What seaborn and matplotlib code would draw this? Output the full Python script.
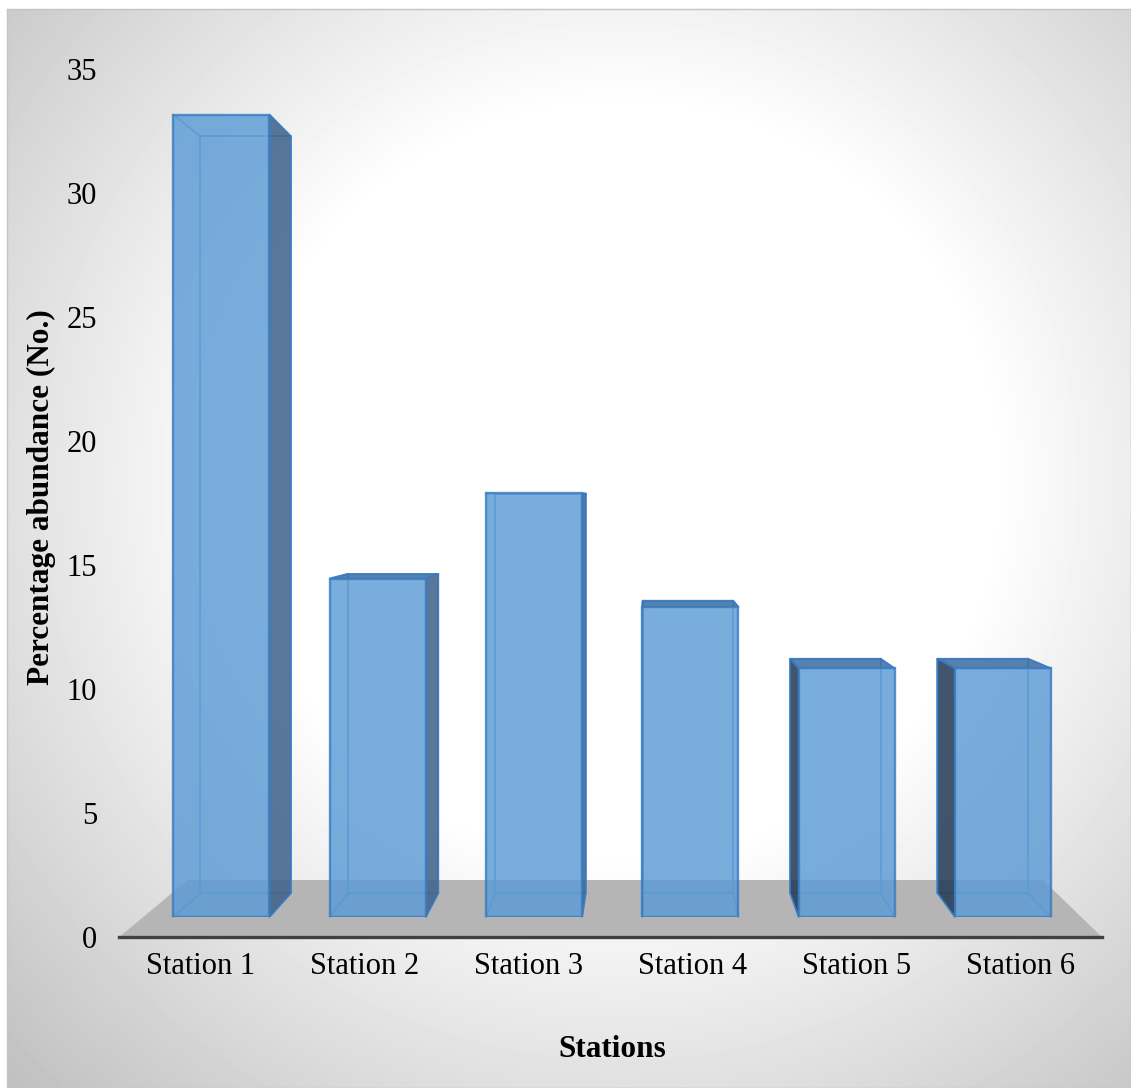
import numpy as np
import pandas as pd
import matplotlib.pyplot as plt
import seaborn as sns
from matplotlib.patches import Polygon
from matplotlib.lines import Line2D
from matplotlib.transforms import IdentityTransform

# 데이터
stations = ['Station 1', 'Station 2', 'Station 3', 'Station 4', 'Station 5', 'Station 6']
abundance = [33.9, 14.3, 17.9, 13.1, 10.5, 10.5]
y_ticks = [0, 5, 10, 15, 20, 25, 30, 35]

df = pd.DataFrame({'Station': stations, 'Abundance': abundance})

sns.set_theme(style='white')
plt.rcParams['font.family'] = ['Liberation Serif', 'DejaVu Serif']
plt.rcParams['text.color'] = 'black'

W, H = 1131, 1088
DPI = 100
fig = plt.figure(figsize=(W / DPI, H / DPI), dpi=DPI, facecolor='white')

# 원근 설정 (픽셀, 왼쪽 위 기준)
vx, vy = 647, 497
k_back, k_floor_front, k_floor_back = 0.943, 1.048, 0.912
vp = np.array([vx, H - vy])


def px_axes(left, top, right, bottom):
    return fig.add_axes([left / W, 1 - bottom / H, (right - left) / W, (bottom - top) / H])


# 배경 (radial gradient)
bg = px_axes(7, 9, W, H)
yy, xx = np.mgrid[9:H, 7:W]
d = np.hypot(xx - 620, yy - 480)
shade = np.clip(255 - 0.131 * (d - 374), 0, 255) / 255
bg.imshow(shade, cmap='gray', vmin=0, vmax=1, aspect='auto', extent=(0, 1, 0, 1))
bg.set_xticks([])
bg.set_yticks([])
for s in bg.spines.values():
    s.set_color('#c4c4c4')
    s.set_linewidth(1)

# 막대 앞면 평면
bar_l, bar_r, bar_bottom = 143.3, 1081.2, 917
px_per_unit = 23.67
bar_top = bar_bottom - 35 * px_per_unit

# 바닥 앞면 평면 (축 눈금)
ff_l = vx + (bar_l - vx) * k_floor_front
ff_r = vx + (bar_r - vx) * k_floor_front
ff_t = vy + (bar_top - vy) * k_floor_front
ff_b = vy + (bar_bottom - vy) * k_floor_front
ax_front = px_axes(ff_l, ff_t, ff_r, ff_b)
ax_front.set_facecolor('none')
ax_front.set_xlim(-0.5, 5.5)
ax_front.set_ylim(0, 35)
ax_front.set_xticks(range(len(stations)))
ax_front.set_xticklabels(stations)
ax_front.set_yticks(y_ticks)
ax_front.tick_params(axis='both', length=0, labelsize=22, labelcolor='black')
ax_front.tick_params(axis='y', pad=16)
ax_front.tick_params(axis='x', pad=11)
for name, s in ax_front.spines.items():
    s.set_visible(name == 'bottom')
ax_front.spines['bottom'].set_color('#404040')
ax_front.spines['bottom'].set_linewidth(2.4)
ax_front.spines['bottom'].set_zorder(3)

ax = px_axes(bar_l, bar_top, bar_r, bar_bottom)
sns.barplot(data=df, x='Station', y='Abundance', ax=ax, color='#5B9BD5', saturation=1,
            width=0.614, edgecolor='#3A7CC2', linewidth=1.7, alpha=0.82, zorder=3)
ax.set_xlim(-0.5, 5.5)
ax.set_ylim(0, 35)
ax.axis('off')


def project(pts, k):
    disp = ax.transData.transform(pts)
    return vp + (disp - vp) * k


# 바닥
floor_front = project([(-0.5, 0), (5.5, 0)], k_floor_front)
floor_back = project([(-0.5, 0), (5.5, 0)], k_floor_back)
floor = Polygon([floor_front[0], floor_front[1], floor_back[1], floor_back[0]],
                closed=True, facecolor='#b5b5b5', edgecolor='none',
                transform=IdentityTransform(), zorder=0.5, clip_on=False)
ax_front.add_patch(floor)

# 3D 면
for p in ax.patches[:len(stations)]:
    x0 = p.get_x()
    x1 = x0 + p.get_width()
    h = p.get_height()
    corners = [(x0, 0), (x1, 0), (x1, h), (x0, h)]
    F = project(corners, 1.0)
    B = project(corners, k_back)

    # 뒷면 모서리
    for i in range(4):
        j = (i + 1) % 4
        ax.add_line(Line2D([B[i, 0], B[j, 0]], [B[i, 1], B[j, 1]], color='#4F93D6',
                           lw=1.3, alpha=0.8, transform=IdentityTransform(), zorder=2, clip_on=False))
        ax.add_line(Line2D([F[i, 0], B[i, 0]], [F[i, 1], B[i, 1]], color='#4F93D6',
                           lw=1.3, alpha=0.8, transform=IdentityTransform(), zorder=2, clip_on=False))

    # 옆면
    if B[1, 0] > F[1, 0]:
        side = [F[1], F[2], B[2], B[1]]
        side_color = '#3D6189'
    else:
        side = [F[0], F[3], B[3], B[0]]
        side_color = '#223A55'
    ax.add_patch(Polygon(side, closed=True, facecolor=side_color, edgecolor='#3A7CC2',
                         lw=1.2, alpha=0.86, transform=IdentityTransform(), zorder=2.5, clip_on=False))

    # 윗면
    if F[3, 1] < vp[1]:
        top = [F[3], F[2], B[2], B[3]]
        ax.add_patch(Polygon(top, closed=True, facecolor='#3C6B9F', edgecolor='#3A7CC2',
                             lw=1.2, alpha=0.85, transform=IdentityTransform(), zorder=2.5, clip_on=False))

# 축 제목
fig.text(41 / W, 1 - 497 / H, 'Percentage abundance (No.)', rotation=90, ha='center', va='center',
         fontsize=22.5, fontweight='bold', color='black')
fig.text(612 / W, 1 - 1057 / H, 'Stations', ha='center', va='baseline',
         fontsize=22.5, fontweight='bold', color='black')

fig.savefig('out.png', dpi=DPI)
